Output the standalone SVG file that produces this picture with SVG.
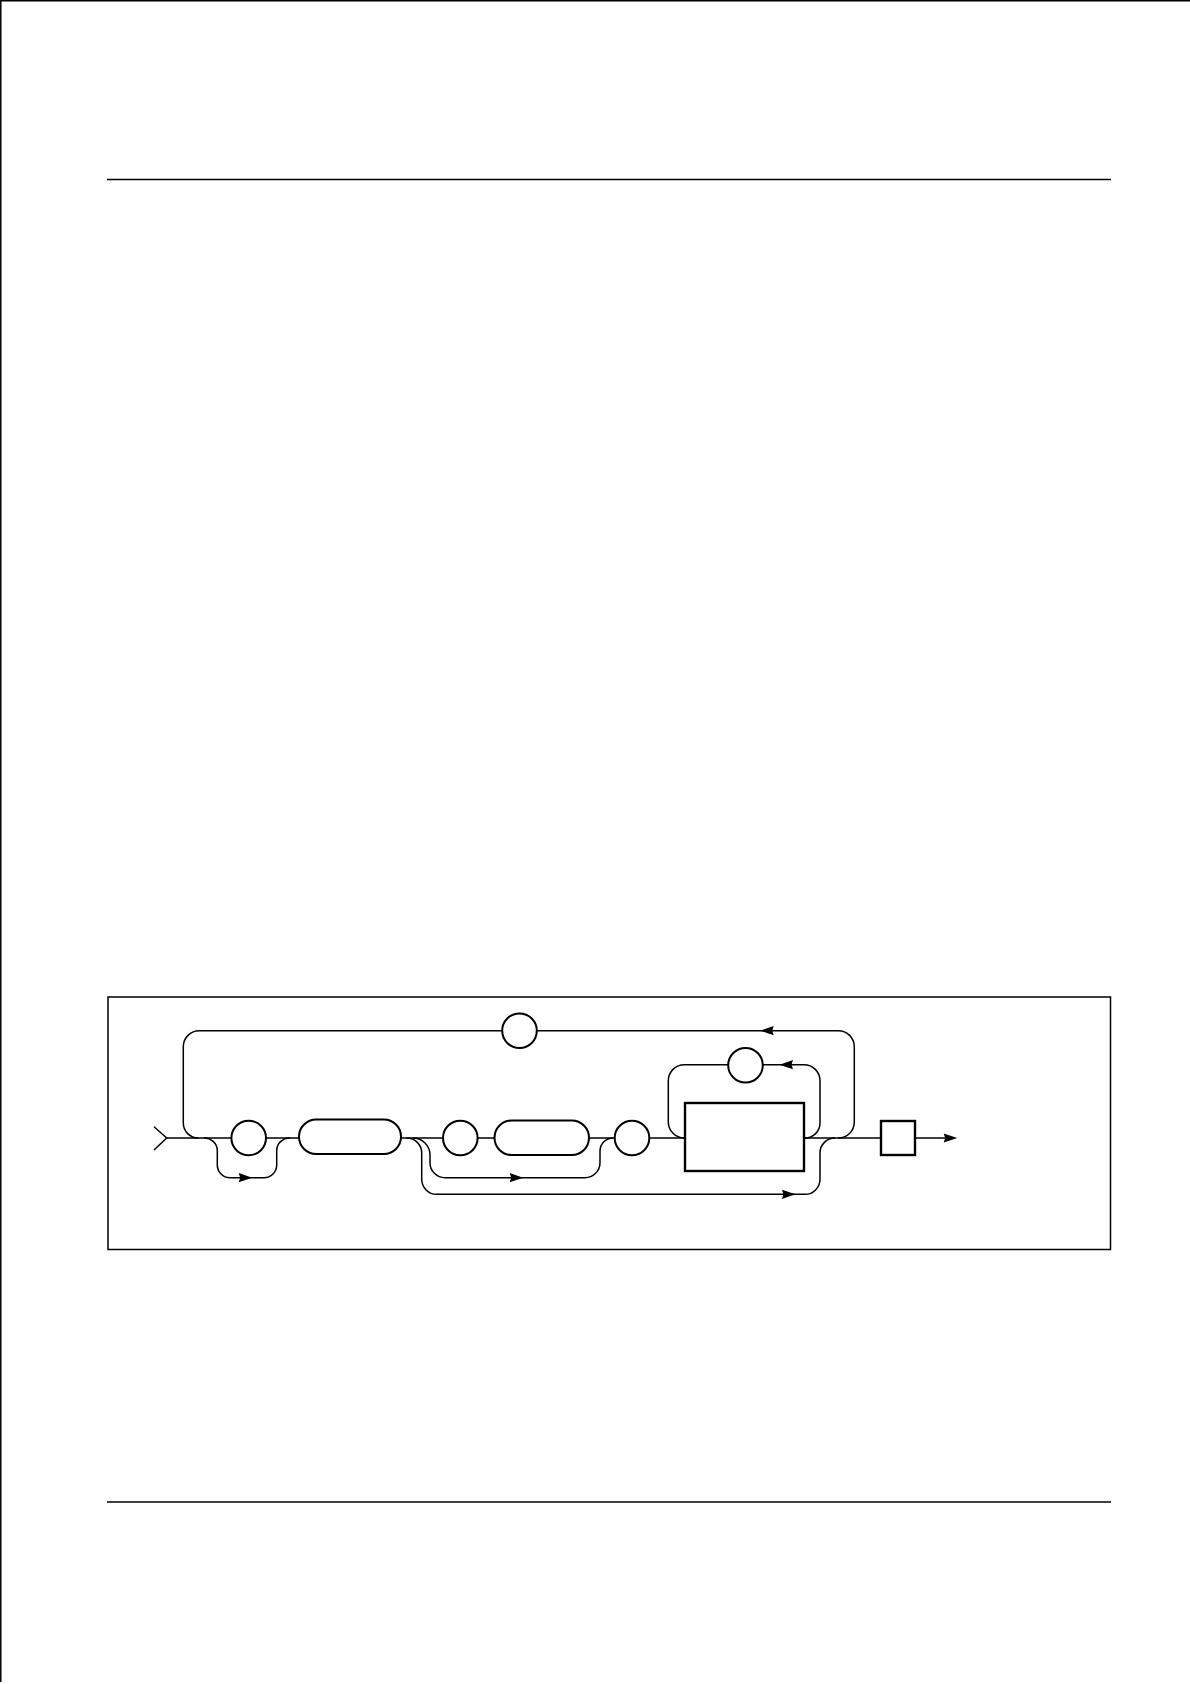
<svg xmlns="http://www.w3.org/2000/svg" xmlns:xlink="http://www.w3.org/1999/xlink" width="1190" height="1684" viewBox="0 0 1190 1684">
<style>
.page{stroke:#000;stroke-width:1.5;fill:none}
.conn{stroke:#000;stroke-width:1.5;fill:none}
.term{stroke:#000;stroke-width:2;fill:#fff}
.nt{stroke:#000;stroke-width:2.4;fill:#fff}
.ah{fill:#000;stroke:none}
</style>
<defs>
<path id="ah" d="M0.5 0 L-13 -4.6 L-11.5 0 L-13 4.6 Z"/>
</defs>
<rect width="1190" height="1684" fill="#fff"/>
<g id="page">
<line class="page" x1="0" y1="0.8" x2="1190" y2="0.8"/>
<line class="page" x1="0.8" y1="0" x2="0.8" y2="1682"/>
<line class="page" x1="107" y1="179.5" x2="1111" y2="179.5"/>
<line class="page" x1="107" y1="1502" x2="1111" y2="1502"/>
<rect class="page" x="108" y="997" width="1002.5" height="252.5"/>
</g>
<g id="connectors">
<path class="conn" d="M154 1126.7 L166.7 1138 L154 1150"/>
<path class="conn" d="M166.7 1138 H231.4 M266 1138 H299 M401 1138 H443 M477.6 1138 H494.5 M589 1138 H614.7 M649.3 1138 H685 M804 1138 H881 M915 1138 H945"/>
<path class="conn" d="M838 1138 A16 16 0 0 0 854.3 1122 V1046.7 A16 16 0 0 0 838.3 1030.7 H537 M502 1030.7 H199.3 A16 16 0 0 0 183.3 1046.7 V1123 A15 15 0 0 0 198.3 1138"/>
<path class="conn" d="M805 1138 A15 15 0 0 0 820 1123 V1080.7 A16 16 0 0 0 804 1064.7 H763 M728 1064.7 H684.3 A16 16 0 0 0 668.3 1080.7 V1122 A16 16 0 0 0 684.3 1138"/>
<path class="conn" d="M204 1138 A13.3 12.5 0 0 1 217.3 1150.5 V1165 A12.7 12.7 0 0 0 230 1177.7 H264 A12.7 12.7 0 0 0 276.7 1165 V1150.5 A13.3 12.5 0 0 1 290 1138"/>
<path class="conn" d="M413 1138 A17 17 0 0 1 430 1155 V1162.7 A15 15 0 0 0 445 1177.7 H585 A15 15 0 0 0 600 1162.7 V1151 A13 13 0 0 1 613 1138"/>
<path class="conn" d="M406.7 1138 A15 15 0 0 1 421.7 1153 V1179.3 A15 15 0 0 0 436.7 1194.3 H805 A15 15 0 0 0 820 1179.3 V1153 A15 15 0 0 1 835 1138"/>
<use href="#ah" class="ah" transform="translate(251.7 1177.7)"/>
<use href="#ah" class="ah" transform="translate(522.7 1177.7)"/>
<use href="#ah" class="ah" transform="translate(795 1194.3)"/>
<use href="#ah" class="ah" transform="translate(760.7 1030.7) rotate(180)"/>
<use href="#ah" class="ah" transform="translate(780 1064.7) rotate(180)"/>
<use href="#ah" class="ah" transform="translate(956.7 1138)"/>
</g>
<g id="n-circle1"><circle class="term" cx="248.7" cy="1138" r="17.3"/></g>
<g id="n-rounded1"><rect class="term" x="299" y="1119.5" width="102" height="34.5" rx="17.25"/></g>
<g id="n-circle2"><circle class="term" cx="460.3" cy="1138" r="17.3"/></g>
<g id="n-rounded2"><rect class="term" x="494.5" y="1120.5" width="94.5" height="34.5" rx="17.25"/></g>
<g id="n-circle3"><circle class="term" cx="632" cy="1138" r="17.3"/></g>
<g id="n-box"><rect class="nt" x="685" y="1103" width="119" height="68"/></g>
<g id="n-circle-top"><circle class="term" cx="519.5" cy="1030.7" r="17.3"/></g>
<g id="n-circle-inner"><circle class="term" cx="745.5" cy="1065.3" r="17.3"/></g>
<g id="n-square"><rect class="nt" x="881" y="1121" width="34" height="34"/></g>
</svg>
